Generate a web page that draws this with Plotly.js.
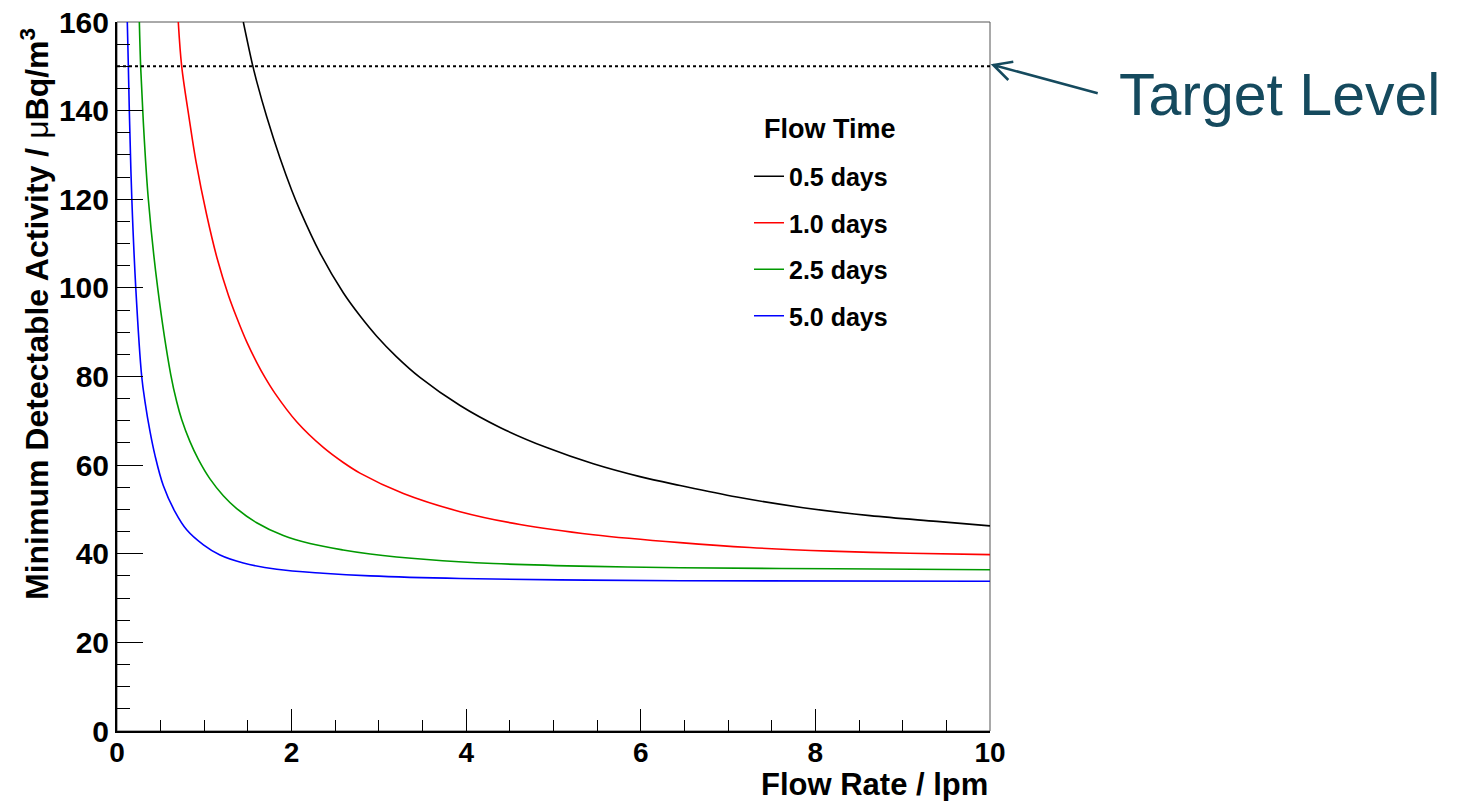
<!DOCTYPE html>
<html>
<head>
<meta charset="utf-8">
<script src="https://cdn.plot.ly/plotly-3.0.1.min.js"></script>
<style>
  html, body { margin: 0; padding: 0; background: #ffffff; }
  #chart { width: 1458px; height: 801px; }
</style>
</head>
<body>
<div id="chart"></div>
<script>
// ---------- data ----------
const seriesNames = ["0.5 days", "1.0 days", "2.5 days", "5.0 days"];
const legendHeader = "Flow Time";

const flow05x = [1.447, 1.554, 1.60, 1.715, 1.867, 2.0, 2.096, 2.325, 2.592, 2.783, 2.975, 3.2, 3.47, 3.93, 4.387, 4.922, 5.456, 5.99, 6.45, 7.1, 7.86, 8.625, 9.39, 10];
const flow05y = [160, 150.2, 146.6, 138.6, 129.3, 122.1, 117.5, 107.9, 98.9, 93.7, 89.1, 84.5, 79.8, 73.45, 68.5, 63.95, 60.3, 57.4, 55.4, 52.8, 50.4, 48.6, 47.3, 46.3];

const flow10x = [0.702, 0.741, 0.825, 0.905, 1.027, 1.149, 1.275, 1.371, 1.486, 1.6, 1.695, 1.81, 2.058, 2.363, 2.592, 2.783, 3.28, 3.93, 4.616, 5.456, 6.45, 7.25, 8.17, 9.08, 10];
const flow10y = [160, 150, 138.5, 128.5, 116.5, 106.5, 98.4, 93.3, 87.8, 83.2, 79.8, 76.2, 69.8, 64.0, 60.6, 58.2, 53.6, 49.5, 46.6, 44.3, 42.5, 41.4, 40.6, 40.1, 39.8];

const flow25x = [0.256, 0.271, 0.30, 0.359, 0.466, 0.615, 0.684, 0.741, 0.836, 0.932, 1.065, 1.218, 1.371, 1.6, 1.905, 2.21, 2.59, 2.9, 3.55, 4.31, 5.46, 6.45, 8.24, 10];
const flow25y = [160, 150, 138, 120, 100, 80.5, 74.3, 70.3, 65.3, 61.3, 56.9, 53.1, 50.2, 47.0, 44.1, 42.3, 40.85, 39.95, 38.7, 37.8, 37.15, 36.85, 36.6, 36.4];

const flow50x = [0.118, 0.13, 0.141, 0.170, 0.215, 0.283, 0.321, 0.378, 0.435, 0.53, 0.664, 0.798, 0.99, 1.18, 1.447, 1.83, 2.36, 2.9, 3.93, 5.07, 6.45, 10];
const flow50y = [160, 150, 140, 120, 100, 80, 74.3, 67.6, 62.2, 55.4, 49.5, 45.4, 42.0, 39.7, 37.9, 36.5, 35.6, 35.0, 34.4, 34.1, 33.9, 33.8];

const targetLevel = 150;
const xTickVals = [0, 2, 4, 6, 8, 10];
const yTickVals = [0, 20, 40, 60, 80, 100, 120, 140, 160];

// ---------- styling ----------
const colors = ["#000000", "#ff0000", "#009900", "#0000ff"];
const xs = [flow05x, flow10x, flow25x, flow50x];
const ys = [flow05y, flow10y, flow25y, flow50y];

const W = 1458, H = 801;
const M = { l: 117, r: 468, t: 22, b: 70 };
const PW = W - M.l - M.r, PH = H - M.t - M.b;
const px = v => (v - M.l) / PW;          // pixel x -> paper x
const py = v => (H - M.b - v) / PH;      // pixel y -> paper y

const FAM = "Liberation Sans, Arial, sans-serif";
const bold = size => ({ family: FAM, weight: "bold", color: "#000000", size: size });
const teal = "#154a5e";

const traces = seriesNames.map((name, i) => ({
  type: "scatter",
  mode: "lines",
  name: name,
  legendgroup: "g" + i,
  x: xs[i],
  y: ys[i],
  line: { color: colors[i], width: 1.6, shape: "spline", smoothing: 1.0 },
  hoverinfo: "x+y+name"
}));

const tip = [993.3, 65], tail = [1097.7, 93.3], arm1 = [1013.3, 61.7], arm2 = [1008.3, 80];
const arrowPath = `M ${px(tail[0])} ${py(tail[1])} L ${px(tip[0])} ${py(tip[1])} ` +
                  `M ${px(arm1[0])} ${py(arm1[1])} L ${px(tip[0])} ${py(tip[1])} L ${px(arm2[0])} ${py(arm2[1])}`;

const layout = {
  width: W, height: H,
  margin: M,
  paper_bgcolor: "#ffffff",
  plot_bgcolor: "#ffffff",
  showlegend: true,
  legend: {
    x: px(749), y: py(153.5), xanchor: "left", yanchor: "top",
    bgcolor: "rgba(0,0,0,0)", borderwidth: 0,
    traceorder: "grouped", tracegroupgap: 11,
    font: bold(25)
  },
  xaxis: {
    range: [0, 10], tickvals: xTickVals, ticktext: xTickVals.map(String),
    ticks: "inside", ticklen: 22, tickwidth: 1, tickcolor: "#000000",
    minor: { dtick: 0.5, ticks: "inside", ticklen: 11, tickwidth: 1, tickcolor: "#000000", showgrid: false },
    showgrid: false, zeroline: false,
    showline: true, linecolor: "#000000", linewidth: 2, mirror: false,
    ticklabelstandoff: -5,
    tickfont: bold(28)
  },
  yaxis: {
    range: [0, 160], tickvals: yTickVals, ticktext: yTickVals.map(String),
    ticks: "inside", ticklen: 26, tickwidth: 1, tickcolor: "#000000",
    minor: { dtick: 5, ticks: "inside", ticklen: 13, tickwidth: 1, tickcolor: "#000000", showgrid: false },
    showgrid: false, zeroline: false,
    showline: true, linecolor: "#000000", linewidth: 2, mirror: false,
    tickfont: bold(30)
  },
  shapes: [
    { type: "rect", xref: "paper", yref: "paper", x0: 0, x1: 1, y0: 0, y1: 1,
      line: { color: "#555555", width: 1 }, layer: "below" },
    { type: "line", xref: "x", yref: "y", x0: 0, x1: 10, y0: targetLevel, y1: targetLevel,
      line: { color: "#000000", width: 2, dash: "dot" } },
    { type: "path", xref: "paper", yref: "paper", path: arrowPath,
      line: { color: teal, width: 2.5 } }
  ],
  annotations: [
    { xref: "paper", yref: "paper", x: px(35), y: py(314), xanchor: "center", yanchor: "middle",
      textangle: -90, showarrow: false,
      text: 'Minimum Detectable Activity / <span style="font-weight:normal">\u03bc</span>Bq/m<sup>3</sup>',
      font: bold(32) },
    { xref: "paper", yref: "paper", x: 1, y: py(784), xanchor: "right", yanchor: "middle",
      showarrow: false, text: "Flow Rate / lpm",
      font: bold(31) },
    { xref: "paper", yref: "paper", x: px(830), y: py(128.5), xanchor: "center", yanchor: "middle",
      showarrow: false, text: legendHeader,
      font: bold(27) },
    { xref: "paper", yref: "paper", x: px(1279.5), y: py(95), xanchor: "center", yanchor: "middle",
      showarrow: false, text: "Target Level",
      font: { family: FAM, size: 59, color: teal } }
  ]
};

Plotly.newPlot("chart", traces, layout, { displayModeBar: false });
</script>
</body>
</html>
